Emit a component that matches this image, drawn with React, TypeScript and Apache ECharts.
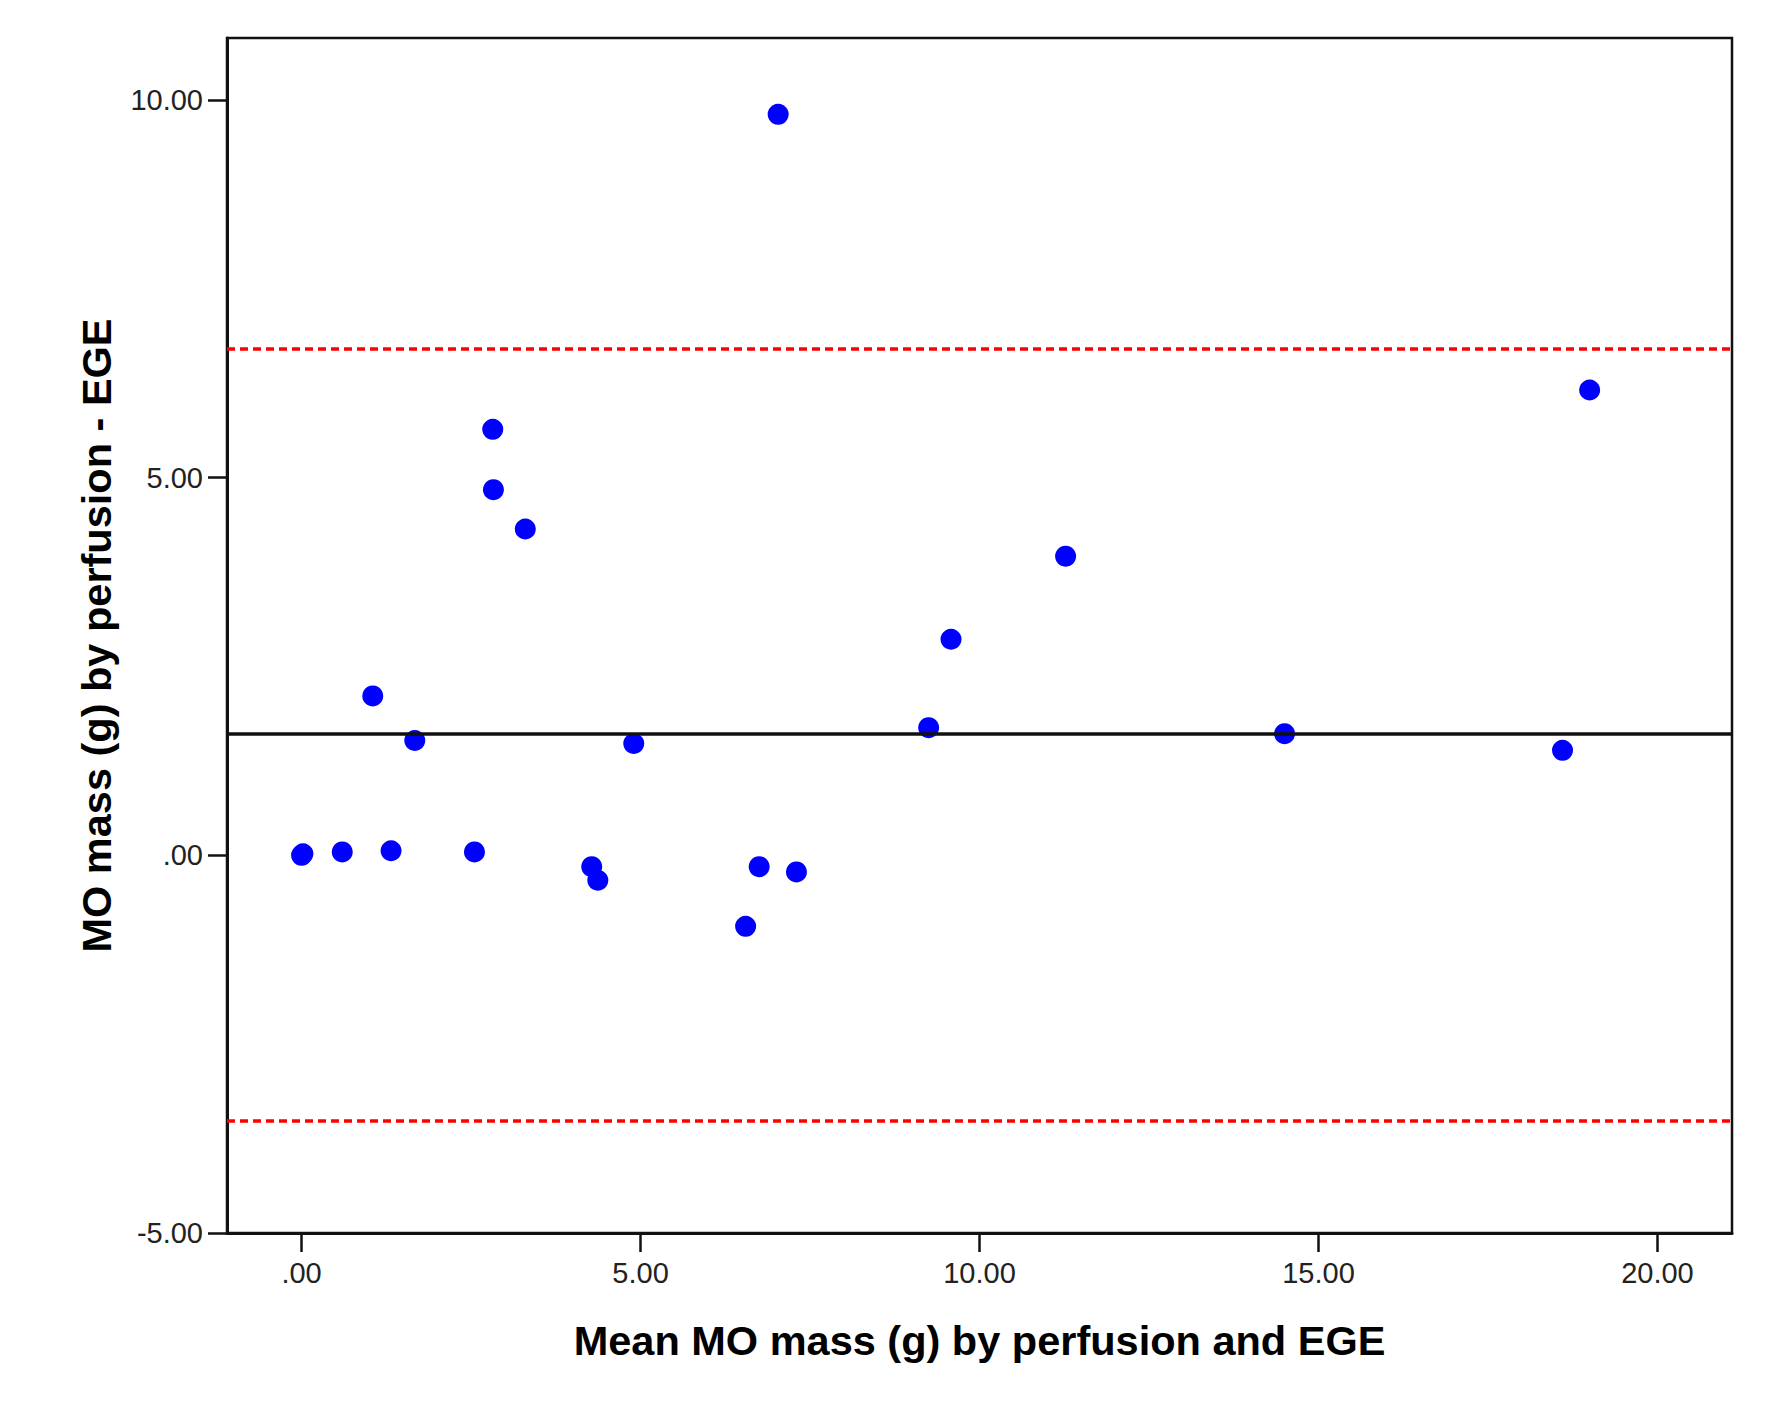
import React, { useEffect, useRef } from "react";
import * as echarts from "echarts";

const xValues = [0.0, 0.02, 0.6, 1.32, 1.05, 1.67, 2.55, 2.82, 2.83, 3.3, 4.28, 4.37, 4.9, 6.55, 7.03, 6.75, 7.3, 9.25, 9.58, 11.27, 14.5, 18.6, 19.0];
const yValues = [0.0, 0.02, 0.045, 0.06, 2.11, 1.52, 0.045, 5.64, 4.84, 4.32, -0.15, -0.33, 1.48, -0.94, 9.81, -0.15, -0.22, 1.69, 2.86, 3.96, 1.61, 1.39, 6.16];

const meanDiff = 1.61;
const upperLimit = 6.71;
const lowerLimit = -3.51;

const xTicks = [0, 5, 10, 15, 20];
const yTicks = [-5, 0, 5, 10];

const xTitle = "Mean MO mass (g) by perfusion and EGE";
const yTitle = "MO mass (g) by perfusion - EGE";

const fmt = (v: number) => (v === 0 ? ".00" : v.toFixed(2));

export default function App() {
  const ref = useRef<HTMLDivElement>(null);
  useEffect(() => {
    document.body.style.margin = "0";
    const chart = echarts.init(ref.current!, undefined, { renderer: "svg" });
    const font = "'Liberation Sans', Arial, sans-serif";
    const points = xValues.map((x, i) => [x, yValues[i]]);
    chart.setOption({
      animation: false,
      backgroundColor: "#ffffff",
      grid: {
        left: 227,
        top: 38,
        width: 1505,
        height: 1195,
        show: true,
        borderColor: "#111",
        borderWidth: 2.5,
        backgroundColor: "transparent",
      },
      xAxis: {
        type: "value",
        min: -1.1,
        max: 21.1,
        name: xTitle,
        nameLocation: "middle",
        nameGap: 86,
        nameTextStyle: { fontFamily: font, fontSize: 41.5, fontWeight: "bold", color: "#000" },
        axisLine: { show: true, onZero: false, lineStyle: { color: "#111", width: 3 } },
        axisTick: { show: true, length: 19, lineStyle: { color: "#111", width: 2.5 }, customValues: xTicks },
        axisLabel: { fontFamily: font, fontSize: 29, color: "#222", margin: 25, customValues: xTicks, formatter: fmt },
        splitLine: { show: false },
      },
      yAxis: {
        type: "value",
        min: -5,
        max: 10.82,
        name: yTitle,
        nameLocation: "middle",
        nameGap: 110,
        nameTextStyle: { fontFamily: font, fontSize: 41.5, fontWeight: "bold", color: "#000" },
        axisLine: { show: true, onZero: false, lineStyle: { color: "#111", width: 3 } },
        axisTick: { show: true, length: 19, lineStyle: { color: "#111", width: 2.5 }, customValues: yTicks },
        axisLabel: { fontFamily: font, fontSize: 29, color: "#222", margin: 24, customValues: yTicks, formatter: fmt },
        splitLine: { show: false },
      },
      series: [
        {
          type: "scatter",
          data: [],
          z: 1,
          markLine: {
            silent: true,
            symbol: ["none", "none"],
            label: { show: false },
            data: [
              { yAxis: meanDiff, lineStyle: { color: "#111", width: 3.5, type: "solid" } },
              { yAxis: upperLimit, lineStyle: { color: "#ff0000", width: 3.5, type: [8, 5] } },
              { yAxis: lowerLimit, lineStyle: { color: "#ff0000", width: 3.5, type: [8, 5] } },
            ],
          },
        },
        {
          type: "scatter",
          data: points,
          z: 3,
          symbol: "circle",
          symbolSize: 21,
          itemStyle: { color: "#0000ff", opacity: 1 },
        },
      ],
    });
    return () => chart.dispose();
  }, []);
  return <div ref={ref} style={{ width: 1771, height: 1417 }} />;
}
